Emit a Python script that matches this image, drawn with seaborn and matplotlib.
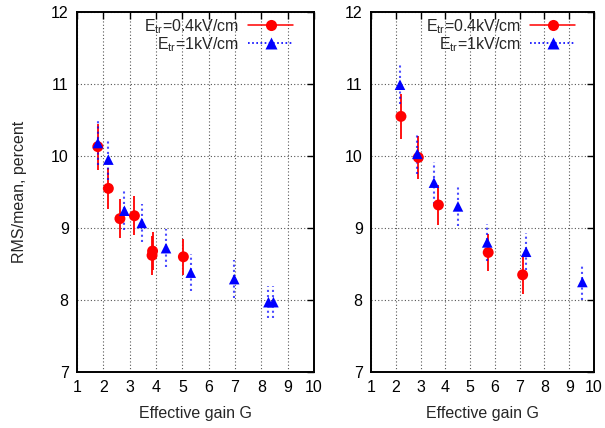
import matplotlib
matplotlib.use("Agg")
import matplotlib.pyplot as plt
from matplotlib.lines import Line2D
import numpy as np
import pandas as pd
import seaborn as sns

# Left panel, E_tr = 0.4 kV/cm
left_g_04 = [1.79, 2.19, 2.63, 3.18, 3.85, 3.87, 5.04]
left_rms_04 = [10.13, 9.55, 9.13, 9.17, 8.62, 8.68, 8.60]
left_err_04 = [0.32, 0.29, 0.27, 0.27, 0.27, 0.27, 0.25]

# Left panel, E_tr = 1 kV/cm
left_g_1 = [1.79, 2.19, 2.80, 3.46, 4.38, 5.32, 6.97, 8.27, 8.46]
left_rms_1 = [10.18, 9.95, 9.24, 9.07, 8.72, 8.38, 8.29, 7.97, 7.97]
left_err_1 = [0.30, 0.28, 0.27, 0.26, 0.26, 0.26, 0.26, 0.22, 0.22]

# Right panel, E_tr = 0.4 kV/cm
right_g_04 = [2.21, 2.91, 3.72, 5.73, 7.12]
right_rms_04 = [10.55, 9.98, 9.32, 8.66, 8.35]
right_err_04 = [0.31, 0.30, 0.28, 0.26, 0.26]

# Right panel, E_tr = 1 kV/cm
right_g_1 = [2.17, 2.87, 3.54, 4.51, 5.69, 7.26, 9.53]
right_rms_1 = [10.99, 10.03, 9.63, 9.30, 8.80, 8.67, 8.25]
right_err_1 = [0.27, 0.28, 0.29, 0.27, 0.26, 0.26, 0.25]

label_04 = r"E$_{\rm tr}$=0.4kV/cm"
label_1 = r"E$_{\rm tr}$=1kV/cm"
x_ticks = list(range(1, 11))
y_ticks = list(range(7, 13))

sns.set_theme(style="white")
plt.rcParams["font.family"] = ["Liberation Sans", "DejaVu Sans"]
plt.rcParams["mathtext.fontset"] = "custom"
plt.rcParams["mathtext.rm"] = "Liberation Sans"
plt.rcParams["mathtext.it"] = "Liberation Sans:italic"

FS = 11.5
RED = "#ff0000"
BLUE = "#0000ff"

fig = plt.figure(figsize=(6.05, 4.28), dpi=100)
ax_l = fig.add_axes([77 / 605, 1 - 372 / 428, 237 / 605, 360 / 428])
ax_r = fig.add_axes([371 / 605, 1 - 372 / 428, 223 / 605, 360 / 428])


def draw_panel(ax, g04, r04, e04, g1, r1, e1, legend_x):
    df04 = pd.DataFrame({"g": g04, "rms": r04})
    df1 = pd.DataFrame({"g": g1, "rms": r1})
    ax.errorbar(g04, r04, yerr=e04, fmt="none", ecolor=RED, elinewidth=1.3,
                capsize=0, zorder=3)
    eb = ax.errorbar(g1, r1, yerr=e1, fmt="none", ecolor=BLUE, elinewidth=1.5,
                     capsize=0, zorder=3, alpha=0.7)
    for lc in eb[2]:
        lc.set_linestyle((0, (1, 1.5)))
    sns.scatterplot(data=df04, x="g", y="rms", ax=ax, color=RED, marker="o",
                    s=62, edgecolor="none", zorder=4, legend=False)
    sns.scatterplot(data=df1, x="g", y="rms", ax=ax, color=BLUE, marker="^",
                    s=58, edgecolor="none", zorder=5, legend=False)

    ax.set_xlim(1, 10)
    ax.set_ylim(7, 12)
    ax.set_xticks(x_ticks)
    ax.set_yticks(y_ticks)
    ax.tick_params(direction="in", length=5, width=1, top=True, right=True,
                   labelsize=FS, colors="black", pad=6)
    for s in ax.spines.values():
        s.set_visible(True)
        s.set_color("black")
        s.set_linewidth(1.4)
    ax.grid(True, linestyle=(0, (1, 2)), color="#555555", linewidth=0.8)
    ax.set_axisbelow(True)
    ax.set_xlabel("Effective gain G", fontsize=FS, labelpad=8)
    ax.set_ylabel("")

    handles = [
        Line2D([], [], color=RED, linestyle="-", linewidth=1.1, marker="o",
               markersize=8, markeredgecolor="none"),
        Line2D([], [], color=BLUE, linestyle=(0, (1, 1.5)), linewidth=1.2,
               marker="^", markersize=8, markeredgecolor="none"),
    ]
    ax.legend(handles, [label_04, label_1], loc="upper right",
              bbox_to_anchor=(legend_x, 1 - 5 / 360),
              frameon=False, markerfirst=False, fontsize=FS, handlelength=2.8,
              handletextpad=0.6, labelspacing=-0.05, borderaxespad=0.0,
              borderpad=0.0)


draw_panel(ax_l, left_g_04, left_rms_04, left_err_04,
           left_g_1, left_rms_1, left_err_1, 1 - 21 / 237)
draw_panel(ax_r, right_g_04, right_rms_04, right_err_04,
           right_g_1, right_rms_1, right_err_1, 1 - 19 / 223)

ax_l.set_ylabel("RMS/mean, percent", fontsize=FS, labelpad=17)

fig.savefig("out.png", dpi=100)
